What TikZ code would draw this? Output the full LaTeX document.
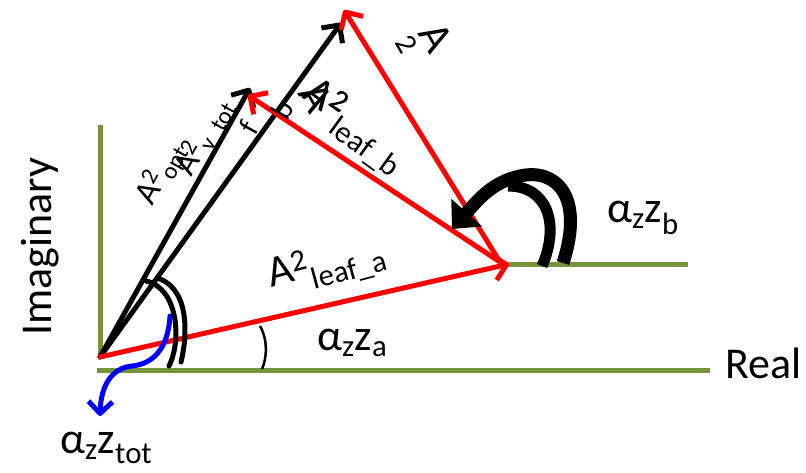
\documentclass[tikz,border=0pt]{standalone}
\usepackage{fontspec}
\setmainfont{Carlito}
\usetikzlibrary{arrows.meta}
\definecolor{axisgreen}{RGB}{119,147,60}
\begin{document}
\begin{tikzpicture}[x=1pt,y=-1pt,
  axis/.style={draw=axisgreen,line width=5pt},
  redvec/.style={draw=red,line width=5pt,line cap=round,-{Straight Barb[length=13pt,width=26pt,line join=round]}},
  blackvec/.style={draw=black,line width=5pt,line cap=round,-{Straight Barb[length=13pt,width=26pt,line join=round]}},
  angarc/.style={draw=black,line width=5pt,line cap=round},
  lbl/.style={font=\fontsize{44}{50}\selectfont,inner sep=0pt},
  slbl/.style={font=\fontsize{34}{40}\selectfont,inner sep=0pt},
  tlbl/.style={font=\fontsize{30}{36}\selectfont,inner sep=0pt}
]
\useasboundingbox (0,0) rectangle (806,472);
% points
\coordinate (O) at (100,357);
\coordinate (P) at (509,264);
\coordinate (Ps) at (500,262);
\coordinate (Bt) at (248,95);
\coordinate (Ct) at (344,10);
\coordinate (K1) at (250,88);
\coordinate (K2) at (341,23);
\coordinate (VA) at (100,125);
\coordinate (VB) at (100,358);
\coordinate (HA) at (97,370);
\coordinate (HB) at (710,370);
\coordinate (GA) at (505,264);
\coordinate (GB) at (688,264);
% axes
\draw[axis] (VA) -- (VB);
\draw[axis] (HA) -- (HB);
\draw[axis] (GA) -- (GB);
% black vectors
\draw[blackvec] (O) -- (K2);
\draw[blackvec] (O) -- (K1);
% red vectors
\draw[redvec] (O) -- (P);
\draw[redvec] (Ps) -- (Bt);
\draw[redvec] (Ps) -- (Ct);
% angle arcs at origin
\coordinate (a1s) at (146,281);
\coordinate (a1e) at (169,366);
\coordinate (a2s) at (160,279);
\coordinate (a2e) at (181,362);
\draw[angarc] (a1s) .. controls (178,288) and (182,340) .. (a1e);
\draw[angarc] (a2s) .. controls (192,292) and (186,342) .. (a2e);
% small angle arc
\coordinate (s1) at (260,326);
\coordinate (s2) at (262,369);
\draw[draw=black,line width=2.5pt] (s1) .. controls (268,340) and (267,358) .. (s2);
% blue arrow
\coordinate (b1) at (170,316);
\coordinate (b2) at (132,366);
\coordinate (b3) at (100,416);
\draw[draw=blue,line width=5pt,line cap=round,-{Straight Barb[length=12pt,width=24pt,line join=round]}]
  (b1) .. controls (168,350) and (152,364) .. (b2) .. controls (112,368) and (101,385) .. (b3);
% thick curved arrows
\coordinate (c1) at (563,263);
\coordinate (c2) at (452,229);
\coordinate (c3) at (542,266);
\coordinate (c4) at (508,186);
\draw[draw=black,line width=13pt,-{Triangle[length=22pt,width=40pt]}]
  (c1) .. controls (585,195) and (555,168) .. (520,176) .. controls (492,182) and (478,200) .. (c2);
\draw[draw=black,line width=11pt] (c3) .. controls (560,225) and (548,186) .. (c4);
% texts
\node[lbl,anchor=base west] (real) at (725,378) {Real};
\node[lbl,rotate=90,anchor=base west] (imag) at (51,336) {Imaginary};
\node[lbl,anchor=base west] (ztot) at (60,453) {α\textsubscript{z}z\textsubscript{tot}};
\node[lbl,anchor=base west] (za) at (317,350) {α\textsubscript{z}z\textsubscript{a}};
\node[lbl,anchor=base west] (zb) at (607,222) {α\textsubscript{z}z\textsubscript{b}};
\node[lbl,rotate=15,anchor=base west] (la) at (271,288) {A\textsuperscript{2}\textsubscript{leaf\_a}};
\node[lbl,rotate=-36,anchor=base west] (lb) at (301,97) {A\textsuperscript{2}\textsubscript{leaf\_b}};
\node[slbl,rotate=61,anchor=base west] (lopt) at (152,207) {A\textsuperscript{2}\textsubscript{opt}};
\node[slbl,rotate=61,anchor=base west] (ltot) at (191,178) {A\textsuperscript{2}\textsubscript{y\_tot}};
\node[tlbl,rotate=61] (lf) at (249,128) {f};
\node[tlbl,rotate=61] (lbb) at (282,110) {b};
\node[lbl,rotate=-60] (ltop) at (436,37) {A};
\node[tlbl,rotate=-60] (ltop2) at (407,44) {2};
\node[lbl,rotate=-60] (lmid) at (316,97) {A};
\node[tlbl,rotate=-30] (lmid2) at (340,101) {2};
\end{tikzpicture}
\end{document}
